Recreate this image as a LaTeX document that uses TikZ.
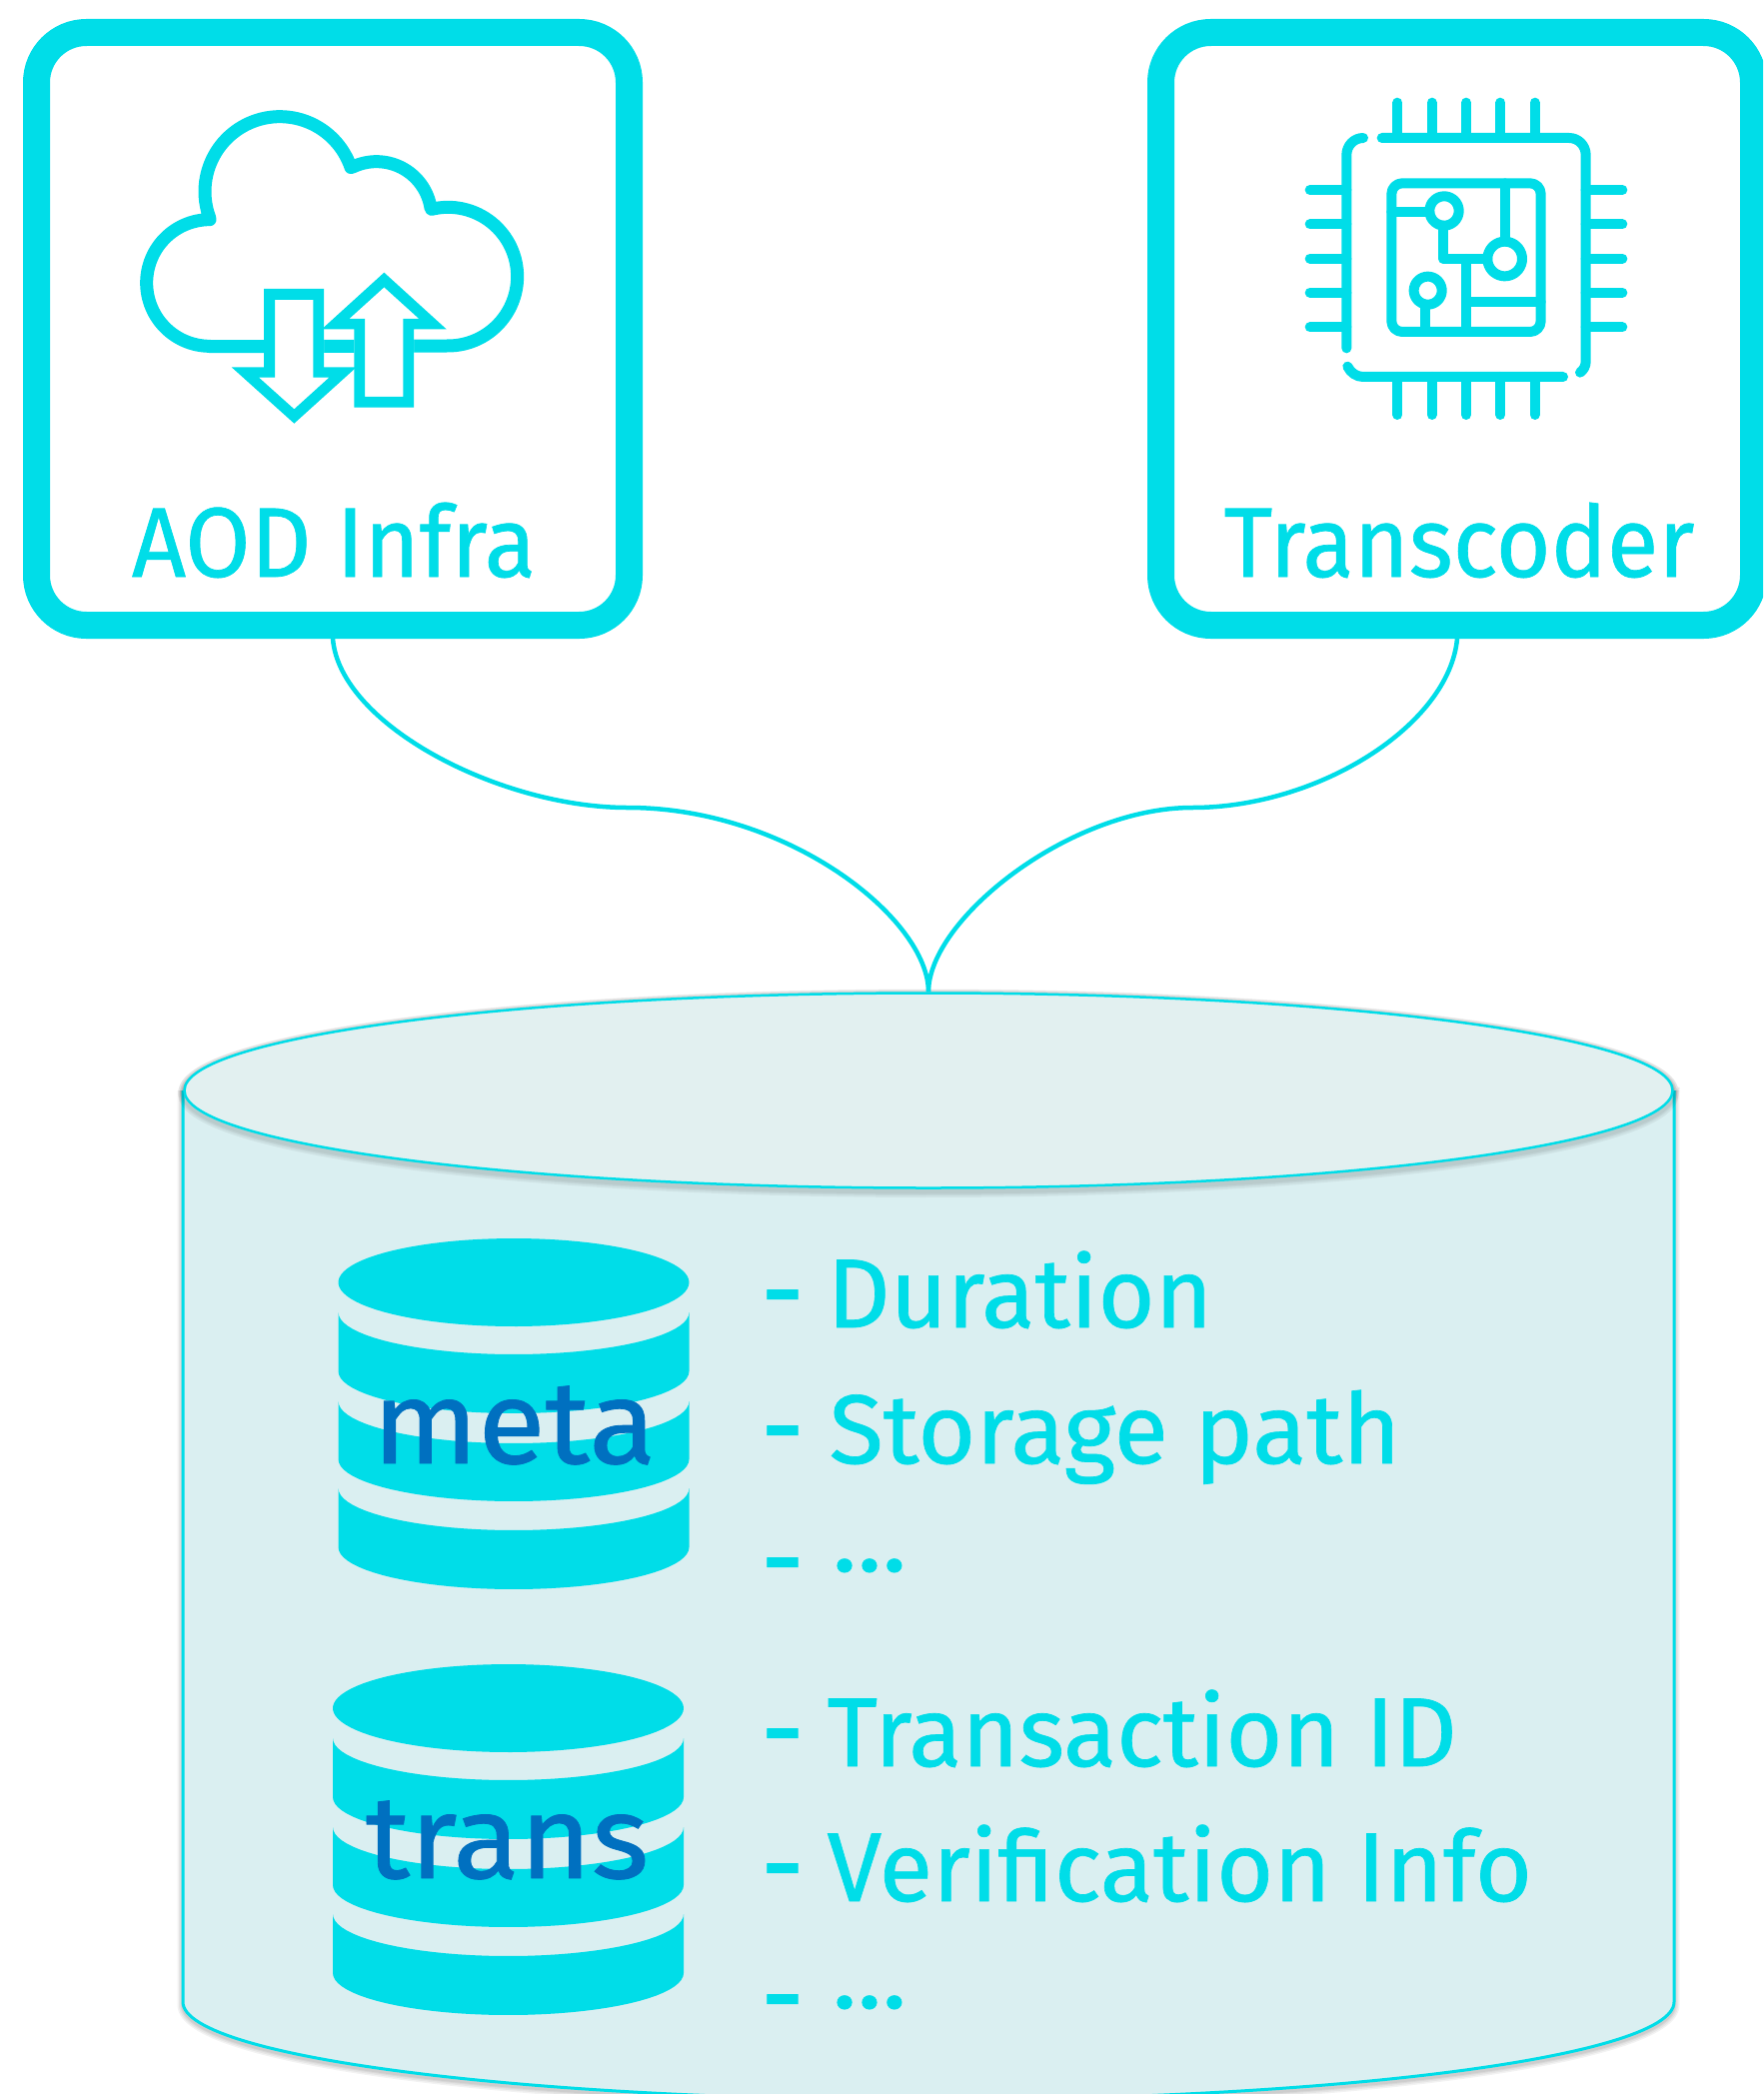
\documentclass[tikz,border=0pt]{standalone}
\usepackage{fontspec}
\setmainfont{Fira Sans}
\newfontfamily\medfont[FakeBold=0.7]{Fira Sans}
\usetikzlibrary{shapes.geometric}
\definecolor{cy}{HTML}{00DDE8}
\definecolor{metablue}{HTML}{0070C0}
\definecolor{sidefill}{HTML}{DAEFF1}
\definecolor{topfill}{HTML}{E2F0F0}
\tikzset{
  framebox/.style={draw=cy,line width=27pt,rounded corners=50pt,minimum width=593pt,minimum height=593pt,fill=white,inner sep=0pt},
  link/.style={draw=cy,line width=4.5pt},
  boxlabel/.style={anchor=base,text=cy,inner sep=0pt,font=\medfont\fontsize{99}{99}\selectfont},
  listline/.style={anchor=base west,text=cy,inner sep=0pt,font=\medfont\fontsize{98}{98}\selectfont},
  dbname/.style={anchor=base,text=metablue,inner sep=0pt,font=\medfont\fontsize{118}{118}\selectfont},
  icon/.style={draw=cy,line width=10pt,line cap=round,line join=round},
  cloudline/.style={draw=cy,line width=13pt,line join=round,line cap=round},
  softshadow/.style={draw=black,line width=#1,opacity=.05}
}
\newcommand{\dashup}[1]{\raisebox{#1}{\scalebox{1.1}[1.2]{-}}}
\newcommand{\dbstack}[2]{%
\begin{scope}[shift={(#1,#2)}]
 \fill[cy] plot[domain=0:360,samples=90] ({175.5*cos(\x)},{44*sin(\x)}) -- cycle;
 \foreach \t/\b in {30/89,119/177,206/265}{
  \fill[cy] (-175.5,\t) -- plot[domain=180:0,samples=40] ({175.5*cos(\x)},{\t+42*sin(\x)}) -- (175.5,\b)
     -- plot[domain=0:180,samples=40] ({175.5*cos(\x)},{\b+42*sin(\x)}) -- cycle;
 }
\end{scope}}
\begin{document}
\begin{tikzpicture}[x=1pt,y=-1pt]
\useasboundingbox (0,0) rectangle (1764,2095);
\clip (0,0) rectangle (1764,2095);
\fill[white] (0,0) rectangle (1764,2095);

% cylinder shadow
\foreach \w in {11pt,8pt,5pt,3pt}{
 \draw[softshadow=\w] (183,1091) -- (183,2006) -- plot[domain=180:0,samples=120] ({929+746*cos(\x)},{2006+98*sin(\x)}) -- (1675,1091);
 \draw[softshadow=\w] plot[domain=0:360,samples=180] ({929+745*cos(\x)},{1093+98*sin(\x)}) -- cycle;
}
% cylinder body
\fill[sidefill] (183,1091) -- (183,2003) -- plot[domain=180:0,samples=120] ({929+746*cos(\x)},{2003+98*sin(\x)}) -- (1675,1091) -- cycle;
\draw[draw=cy,line width=3pt] (183,1091) -- (183,2003) -- plot[domain=180:0,samples=120] ({929+746*cos(\x)},{2003+98*sin(\x)}) -- (1675,1091);
\foreach \w in {12pt,8pt,5pt}{
 \draw[softshadow=\w] plot[domain=0:360,samples=180] ({929+745*cos(\x)},{1094+98*sin(\x)}) -- cycle;
}
\node[ellipse,draw=cy,line width=2.5pt,fill=topfill,minimum width=1489pt,minimum height=195pt,inner sep=0pt] (db) at (929,1091) {};

% frames
\node[framebox] (aod) at (333,329) {};
\node[framebox] (trans) at (1458,329) {};
\coordinate (lm) at (628,808);
\coordinate (rm) at (1193,808);
\draw[link] (aod.south) .. controls (340,725) and (500,808) .. (lm) .. controls (790,808) and (929,920) .. (db.north);
\draw[link] (trans.south) .. controls (1450,725) and (1320,808) .. (rm) .. controls (1070,808) and (929,920) .. (db.north);

\node[boxlabel] (aodl) at (334,577) {\scalebox{.955}[1]{AOD Infra}};
\node[boxlabel] (transl) at (1460,577) {\scalebox{.95}[1]{Transcoder}};

% cloud
\begin{scope}[xshift=110pt,yshift=-80pt,x=.33333pt,y=-.33333pt]
 \draw[cloudline] (300,800)
  -- plot[domain=90:270,samples=60] ({300+190*cos(\x)},{609+190*sin(\x)})
  -- plot[domain=159.6:341.2,samples=60] ({510+225*cos(\x)},{335+225*sin(\x)})
  -- plot[domain=244.7:351.4,samples=40] ({800+165*cos(\x)},{410+165*sin(\x)})
  -- plot[domain=256.3:450,samples=60] ({1015+208*cos(\x)},{590+208*sin(\x)})
  -- cycle;
 \fill[white] (462,627) -- (642,627) -- (642,862) -- (740,862) -- (553,1031) -- (365,862) -- (462,862) -- cycle;
 \fill[white] (823,578) -- (1010,748) -- (912,748) -- (912,983) -- (733,983) -- (733,748) -- (636,748) -- cycle;
 \fill[cy,even odd rule] (462,627) -- (642,627) -- (642,862) -- (740,862) -- (553,1031) -- (365,862) -- (462,862) -- cycle
   (495,660) -- (610,660) -- (610,893) -- (658,893) -- (553,988) -- (447,893) -- (495,893) -- cycle;
 \fill[cy,even odd rule] (823,578) -- (1010,748) -- (912,748) -- (912,983) -- (733,983) -- (733,748) -- (636,748) -- cycle
   (823,622) -- (928,717) -- (880,717) -- (880,951) -- (765,951) -- (765,717) -- (718,717) -- cycle;
\end{scope}

% chip
\begin{scope}[xshift=1280pt,yshift=-80pt,x=.33333pt,y=-.33333pt]
 \draw[icon] (252,174) .. controls (224,174) and (202,197) .. (202,225) -- (202,805);
 \draw[icon] (308,174) -- (870,174) .. controls (898,174) and (920,197) .. (920,225) -- (920,845) .. controls (920,858) and (914,870) .. (903,878);
 \draw[icon] (852,891) -- (252,891) .. controls (232,891) and (214,879) .. (205,860);
 \foreach \p in {355,458,561,664,767}{
  \draw[icon] (\p,68) -- (\p,174);
  \draw[icon] (\p,891) -- (\p,1005);
 }
 \foreach \p in {330,433,536,638,742}{
  \draw[icon] (92,\p) -- (202,\p);
  \draw[icon] (920,\p) -- (1030,\p);
 }
 \draw[icon,rounded corners=10.7pt] (337,310) rectangle (785,756);
 \draw[icon] plot[domain=0:360,samples=40] ({495+44*cos(\x)},{393+44*sin(\x)}) -- cycle;
 \draw[icon] plot[domain=0:360,samples=40] ({677+52*cos(\x)},{537+52*sin(\x)}) -- cycle;
 \draw[icon] plot[domain=0:360,samples=40] ({446+42*cos(\x)},{632+42*sin(\x)}) -- cycle;
 \draw[icon] (337,396) -- (451,396);
 \draw[icon] (677,310) -- (677,485);
 \draw[icon] (492,437) -- (492,537) -- (625,537);
 \draw[icon] (562,537) -- (562,756);
 \draw[icon] (562,666) -- (785,666);
 \draw[icon] (439,674) -- (439,756);
\end{scope}

% database stacks
\dbstack{514}{1283}
\dbstack{508.5}{1709}
\node[dbname] (meta) at (514.5,1464) {\scalebox{1.045}[1]{meta}};
\node[dbname] (transn) at (507.5,1879) {\scalebox{1.04}[1]{trans}};

\node[listline] (l1) at (761,1328) {\dashup{-4pt}\ \hspace{-3pt}Duration};
\node[listline] (l2) at (761,1464) {\dashup{-4pt}\ \hspace{-1pt}\scalebox{1.015}[1]{Storage path}};
\node[listline] (l3) at (761,1572) {\dashup{-28pt}\ \hspace{2pt}\scalebox{1.06}[1]{...}};
\node[listline] (l4) at (761,1767) {\dashup{-4pt}\ \hspace{-3pt}\scalebox{.995}[1]{Transaction ID}};
\node[listline] (l5) at (761,1902) {\dashup{-4pt}\ \hspace{-3pt}Verification Info};
\node[listline] (l6) at (761,2009) {\dashup{-28pt}\ \hspace{2pt}\scalebox{1.06}[1]{...}};
\end{tikzpicture}
\end{document}
